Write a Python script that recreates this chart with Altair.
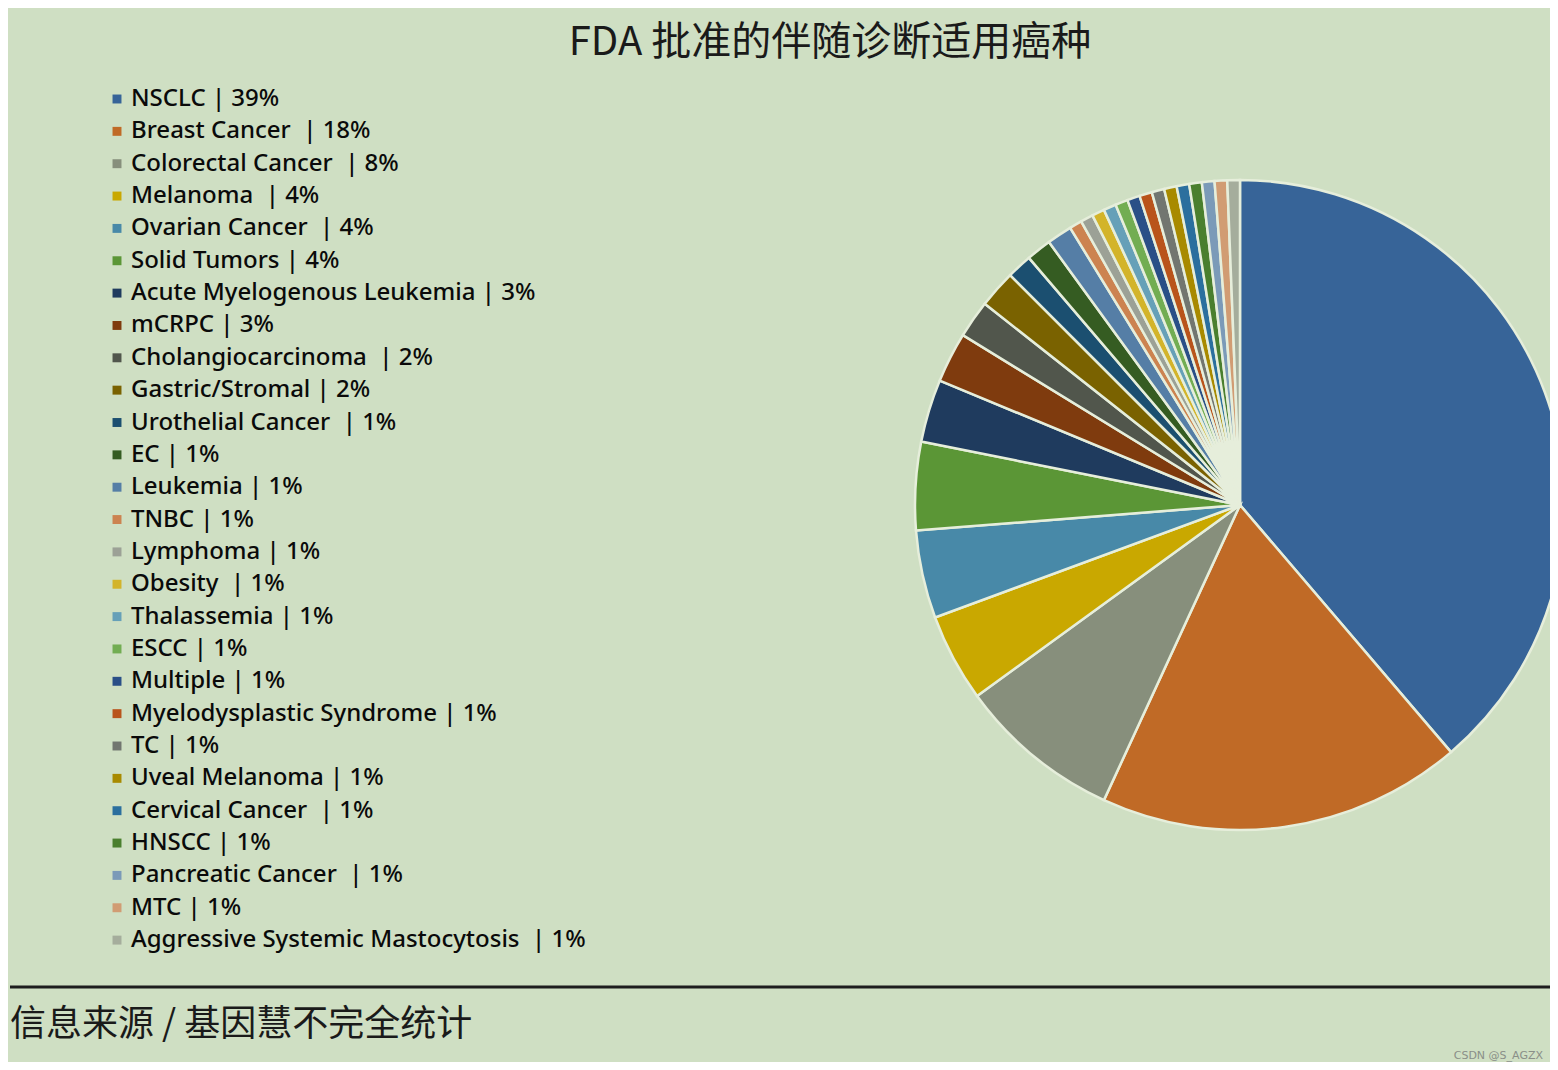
import altair as alt
import pandas as pd

categories = [
    "NSCLC", "Breast Cancer\u00a0", "Colorectal Cancer\u00a0", "Melanoma\u00a0", "Ovarian Cancer\u00a0",
    "Solid Tumors", "Acute Myelogenous Leukemia", "mCRPC", "Cholangiocarcinoma\u00a0", "Gastric/Stromal",
    "Urothelial Cancer\u00a0", "EC", "Leukemia", "TNBC", "Lymphoma", "Obesity\u00a0", "Thalassemia",
    "ESCC", "Multiple", "Myelodysplastic Syndrome", "TC", "Uveal Melanoma", "Cervical Cancer\u00a0",
    "HNSCC", "Pancreatic Cancer\u00a0", "MTC", "Aggressive Systemic Mastocytosis\u00a0",
]
# percentage labels as printed in the legend
percent_labels = [39, 18, 8, 4, 4, 4, 3, 3, 2, 2, 1, 1, 1, 1, 1, 1, 1, 1, 1, 1, 1, 1, 1, 1, 1, 1, 1]
# slice sizes (counts)
counts = [62, 29, 13, 7, 7, 7, 5, 4, 3, 3, 2, 2, 2, 1, 1, 1, 1, 1, 1, 1, 1, 1, 1, 1, 1, 1, 1]
colors = [
    "#376498", "#c06a26", "#878f7c", "#c9a800", "#4889a8", "#5b9636", "#1f3b5e", "#7f3b0e",
    "#51564c", "#7a6200", "#1b4f70", "#355c22", "#557ea6", "#cc8350", "#9ca196", "#d3b42a",
    "#66a0b8", "#72ad52", "#2a4f87", "#b9541b", "#727670", "#a88a00", "#2b6f9e", "#4a7f2e",
    "#7b9ab8", "#d19c73", "#a5ad9c",
]
title_text = "FDA 批准的伴随诊断适用癌种"
footer_text = "信息来源 / 基因慧不完全统计"
watermark_text = "CSDN @S_AGZX"

labels = [f"{c} | {p}%" for c, p in zip(categories, percent_labels)]
df = pd.DataFrame({"label": labels, "value": counts, "idx": list(range(len(labels)))})

BG = "#cfdfc3"

pie = alt.Chart(df).mark_arc(radius=325, stroke="#e6eedb", strokeWidth=2.5).encode(
    theta=alt.Theta("value:Q", stack=True),
    order=alt.Order("idx:Q"),
    color=alt.Color(
        "label:N",
        scale=alt.Scale(domain=labels, range=colors),
        sort=labels,
        legend=alt.Legend(
            title=None,
            orient="none",
            legendX=97,
            legendY=79,
            symbolType="square",
            symbolSize=80,
            symbolStrokeWidth=0,
            labelFontSize=24,
            labelFont="Noto Sans",
            labelFontWeight=500,
            labelColor="#0a0a0a",
            labelLimit=800,
            rowPadding=8.35,
            labelOffset=2,
            symbolLimit=50,
        ),
    ),
    x=alt.value(1232),
    y=alt.value(497),
)

title = alt.Chart(pd.DataFrame({"t": [title_text]})).mark_text(
    font="Noto Sans CJK SC", fontSize=40, color="#1a1a1a", align="center", baseline="alphabetic"
).encode(text="t:N", x=alt.value(822), y=alt.value(47))

rule = alt.Chart(pd.DataFrame({"a": [0]})).mark_rule(color="#1e1e1e", strokeWidth=3).encode(
    x=alt.value(2), x2=alt.value(1550), y=alt.value(979)
)

footer = alt.Chart(pd.DataFrame({"t": [footer_text]})).mark_text(
    font="Noto Sans CJK SC", fontSize=36, color="#1a1a1a", align="left", baseline="alphabetic"
).encode(text="t:N", x=alt.value(2), y=alt.value(1028))

wm = alt.Chart(pd.DataFrame({"t": [watermark_text]})).mark_text(
    font="DejaVu Sans", fontSize=11, color="#8a8f88", align="right", baseline="alphabetic"
).encode(text="t:N", x=alt.value(1535), y=alt.value(1051))

chart = alt.layer(pie, title, rule, footer, wm).properties(
    width=1542, height=1054, padding=0, autosize=alt.AutoSizeParams(type="none")
).configure(background=BG).configure_view(stroke=None)

chart.save("out.html", embed_options={"renderer": "svg", "actions": False})
